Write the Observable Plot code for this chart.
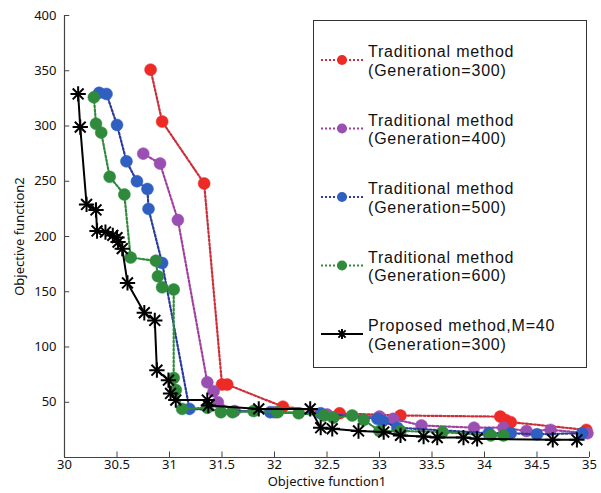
<!DOCTYPE html>
<html>
<head>
<meta charset="utf-8">
<script src="https://cdn.jsdelivr.net/npm/d3@7"></script>
<script src="https://cdn.jsdelivr.net/npm/@observablehq/plot@0.6"></script>
<style>
  html, body { margin: 0; padding: 0; background: #fff; }
  #wrap { position: relative; width: 601px; height: 493px; overflow: hidden; }
  #legend { position: absolute; left: 0; top: 0; }
</style>
</head>
<body>
<div id="wrap"></div>
<script>
// ---- Data ----
const xTicks = [30, 30.5, 31, 31.5, 32, 32.5, 33, 33.5, 34, 34.5, 35];
const yTicks = [50, 100, 150, 200, 250, 300, 350, 400];

const legendLine1 = ["Traditional method", "Traditional method", "Traditional method", "Traditional method", "Proposed method,M=40"];
const legendLine2 = ["(Generation=300)", "(Generation=400)", "(Generation=500)", "(Generation=600)", "(Generation=300)"];

// Traditional method, Generation=300 (red)
const redX = [30.82, 30.93, 31.33, 31.50, 31.55, 32.08, 32.62, 33.20, 34.15, 34.20, 34.25, 34.97];
const redY = [351, 304, 248, 66, 66, 46, 40, 38, 37, 34, 32, 25];
// Generation=400 (purple)
const purX = [30.75, 30.91, 31.08, 31.36, 31.42, 31.46, 31.62, 32.00, 32.50, 33.00, 33.13, 33.40, 33.90, 34.18, 34.40, 34.63, 34.98];
const purY = [275, 266, 215, 68, 60, 50, 42, 41, 39, 37, 35, 29, 27, 27, 24, 25, 22];
// Generation=500 (blue)
const bluX = [30.33, 30.40, 30.50, 30.59, 30.69, 30.79, 30.80, 30.93, 31.19, 31.96, 32.44, 32.98, 33.03, 33.17, 34.04, 34.25, 34.50, 34.93];
const bluY = [330, 329, 301, 268, 250, 243, 225, 176, 44, 41, 40, 35, 33, 27, 22, 22, 21, 22];
// Generation=600 (green)
const greX = [30.28, 30.30, 30.35, 30.43, 30.57, 30.63, 30.87, 30.89, 30.93, 31.04, 31.04, 31.06, 31.12, 31.36, 31.49, 31.60, 31.80, 32.03, 32.23, 32.47, 32.56, 32.74, 32.85, 33.00, 33.20, 33.60, 34.06, 34.18];
const greY = [326, 302, 294, 254, 238, 181, 178, 164, 154, 152, 72, 61, 44, 45, 41, 41, 42, 41, 40, 38, 36, 38, 34, 24, 24, 23, 20, 20];
// Proposed method, M=40 (black)
const blkX = [30.13, 30.15, 30.21, 30.30, 30.31, 30.39, 30.46, 30.50, 30.51, 30.55, 30.60, 30.76, 30.86, 30.88, 30.99, 31.01, 31.06, 31.36, 31.37, 31.85, 32.34, 32.44, 32.55, 32.80, 33.04, 33.20, 33.42, 33.55, 33.80, 33.93, 34.65, 34.88];
const blkY = [329, 299, 229, 224, 205, 204, 201, 199, 195, 189, 158, 131, 124, 79, 70, 58, 52, 52, 47, 44, 44, 27, 26, 24, 23, 20, 19, 18, 18, 17, 16, 16];

// ---- Styling ----
const styles = [
  {line: "#cc2f3a", fill: "#ee2a26"},
  {line: "#a2409f", fill: "#9a50b2"},
  {line: "#2c3c9c", fill: "#2f5fc0"},
  {line: "#2f8a3a", fill: "#2f8a3c"}
];
const trad = [[redX, redY], [purX, purY], [bluX, bluY], [greX, greY]].map(([xs, ys], i) =>
  xs.map((x, j) => ({x, y: ys[j], s: i})));
const prop = blkX.map((x, j) => ({x, y: blkY[j]}));

const marks = [];
trad.forEach((rows, i) => {
  marks.push(Plot.line(rows, {x: "x", y: "y", stroke: styles[i].line, strokeWidth: 2.2, strokeDasharray: "2,2"}));
  marks.push(Plot.dot(rows, {x: "x", y: "y", r: 6, fill: styles[i].fill, stroke: styles[i].fill, strokeWidth: 0.5}));
});
marks.push(Plot.line(prop, {x: "x", y: "y", stroke: "#000", strokeWidth: 2}));
marks.push(Plot.dot(prop, {x: "x", y: "y", symbol: "plus", r: 5, stroke: "#000", strokeWidth: 2}));
marks.push(Plot.dot(prop, {x: "x", y: "y", symbol: "times", r: 5, stroke: "#000", strokeWidth: 2}));

const chart = Plot.plot({
  width: 601, height: 493,
  marginLeft: 64, marginRight: 12, marginTop: 15, marginBottom: 36,
  x: {domain: [30, 35]},
  y: {domain: [0, 400]},
  style: {fontFamily: "'Noto Sans', sans-serif", fontSize: "13px", background: "white", color: "#111"},
  marks: [
    ...marks,
    Plot.ruleY([0], {stroke: "#444", strokeWidth: 1.2}),
    Plot.ruleX([30], {stroke: "#444", strokeWidth: 1.2}),
    Plot.ruleX(xTicks, {x: d => d, y1: 0, y2: 5, stroke: "#444"}),
    Plot.ruleY(yTicks, {y: d => d, x1: 30, x2: 30.05, stroke: "#444"}),
    Plot.axisX({ticks: xTicks, tickSize: 0, tickPadding: 2, tickFormat: d => `${d}`, label: "Objective function1", labelAnchor: "center", labelArrow: "none", labelOffset: 28}),
    Plot.axisY({ticks: yTicks, tickSize: 0, tickPadding: 8, tickFormat: d => `${d}`, label: "Objective function2", labelAnchor: "center", labelArrow: "none", labelOffset: 50})
  ]
});
document.getElementById("wrap").appendChild(chart);

// ---- Legend (inside the plot area, top right) ----
const lg = d3.select("#wrap").append("svg").attr("id", "legend")
  .attr("width", 601).attr("height", 493)
  .style("font-family", "'Liberation Sans', Arial, sans-serif");
const box = {x: 313, y: 20, w: 273, h: 347};
lg.append("rect").attr("x", box.x + 0.5).attr("y", box.y + 0.5).attr("width", box.w).attr("height", box.h)
  .attr("fill", "white").attr("stroke", "#333").attr("stroke-width", 1);
legendLine1.forEach((t1, i) => {
  const cy = box.y + 40 + i * 68.5;
  const g = lg.append("g");
  if (i < 4) {
    g.append("line").attr("x1", box.x + 8).attr("x2", box.x + 50).attr("y1", cy).attr("y2", cy)
      .attr("stroke", styles[i].line).attr("stroke-width", 2).attr("stroke-dasharray", "2,2");
    g.append("circle").attr("cx", box.x + 29).attr("cy", cy).attr("r", 5).attr("fill", styles[i].fill);
  } else {
    g.append("line").attr("x1", box.x + 8).attr("x2", box.x + 50).attr("y1", cy).attr("y2", cy)
      .attr("stroke", "#000").attr("stroke-width", 2);
    g.append("path").attr("transform", `translate(${box.x + 29},${cy})`)
      .attr("d", "M-5,0H5M0,-5V5M-3.6,-3.6L3.6,3.6M-3.6,3.6L3.6,-3.6").attr("stroke", "#000").attr("stroke-width", 2);
  }
  g.append("text").attr("x", box.x + 55).attr("y", cy - 3).attr("font-size", 16).attr("letter-spacing", "0.8px").attr("fill", "#111").text(t1);
  g.append("text").attr("x", box.x + 55).attr("y", cy + 15.5).attr("font-size", 16).attr("letter-spacing", "0.8px").attr("fill", "#111").text(legendLine2[i]);
});
</script>
</body>
</html>
